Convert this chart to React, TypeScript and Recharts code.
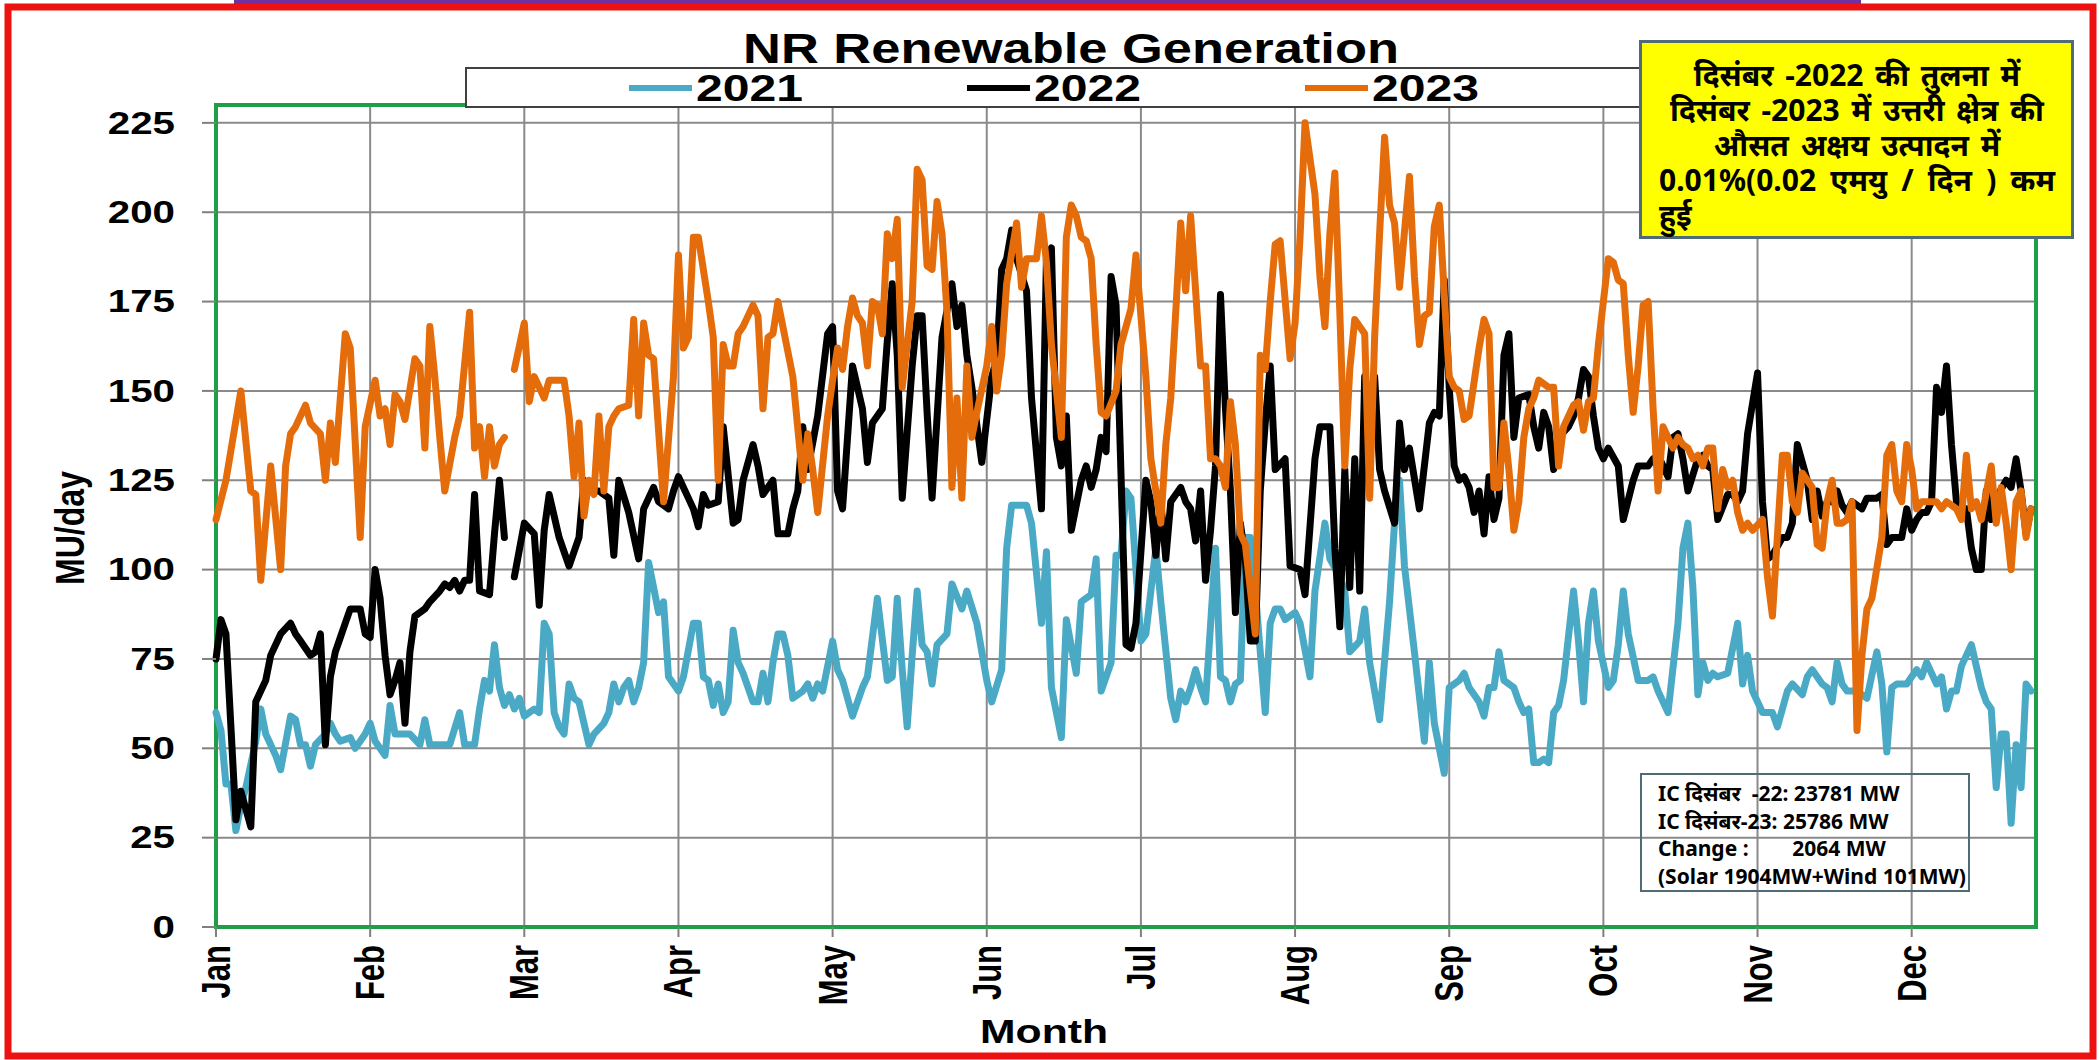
import React from "react";
import { LineChart, Line, XAxis, YAxis, CartesianGrid, ReferenceArea } from "recharts";

type Pt = [number, number | null];

const MONTHS = ["Jan", "Feb", "Mar", "Apr", "May", "Jun", "Jul", "Aug", "Sep", "Oct", "Nov", "Dec"];
// day index of each month label (Excel labels every 31st category)
const MONTH_TICKS = [0, 31, 62, 93, 124, 155, 186, 217, 248, 279, 310, 341];
const MU_TICKS = [0, 25, 50, 75, 100, 125, 150, 175, 200, 225];

// [day of year, MU/day]; null = missing day (29 Feb slot)
const mu2021: Pt[] = [
  [0, 60], [1, 55], [2, 40], [3, 40], [4, 27], [5, 34], [6, 39], [8, 52], [9, 61], [10, 54], [12, 48], [13, 44],
  [15, 59], [16, 58], [17, 51], [18, 51], [19, 45], [20, 51], [22, 54], [23, 57], [24, 54], [25, 52], [27, 53],
  [28, 50], [30, 54], [31, 57], [32, 52], [34, 48], [35, 62], [36, 54], [39, 54], [41, 51], [42, 58], [43, 51],
  [45, 51], [47, 51], [49, 60], [50, 51], [52, 51], [53, 61], [54, 69], [55, 66], [56, 79], [57, 67], [58, 62],
  [59, 65], [60, 61], [61, 64], [62, 59], [64, 61], [65, 60], [66, 85], [67, 82], [68, 60], [69, 56], [70, 54],
  [71, 68], [72, 64], [73, 63], [75, 51], [76, 54], [78, 57], [79, 60], [80, 68], [81, 63], [82, 67], [83, 69],
  [84, 63], [85, 67], [86, 74], [87, 102], [88, 95], [89, 88], [90, 91], [91, 70], [93, 66], [94, 70], [96, 85],
  [97, 85], [98, 70], [99, 69], [100, 62], [101, 68], [102, 60], [103, 63], [104, 83], [105, 74], [106, 71],
  [108, 63], [109, 63], [110, 71], [111, 63], [112, 74], [113, 82], [114, 82], [115, 76], [116, 64], [118, 66],
  [119, 68], [120, 64], [121, 68], [122, 66], [124, 80], [125, 72], [126, 69], [128, 59], [130, 67], [131, 70],
  [133, 92], [135, 69], [136, 70], [137, 92], [138, 72], [139, 56], [140, 76], [141, 94], [142, 79], [143, 77],
  [144, 68], [145, 79], [147, 82], [148, 96], [150, 89], [151, 94], [153, 85], [155, 69], [156, 63], [158, 72],
  [159, 106], [160, 118], [163, 118], [164, 113], [166, 85], [167, 105], [168, 67], [170, 53], [171, 86],
  [173, 71], [174, 91], [176, 93], [177, 103], [178, 66], [180, 74], [181, 104], [182, 104], [183, 122],
  [184, 120], [186, 80], [187, 82], [189, 106], [190, 91], [192, 64], [193, 58], [194, 66], [195, 63], [196, 67],
  [197, 72], [198, 67], [199, 63], [201, 106], [202, 70], [203, 69], [204, 63], [205, 68], [206, 69], [207, 109],
  [208, 109], [209, 94], [211, 60], [212, 85], [213, 89], [214, 89], [215, 86], [217, 88], [218, 85], [220, 70],
  [221, 94], [223, 113], [224, 103], [226, 98], [227, 94], [228, 77], [230, 80], [231, 89], [232, 74], [234, 58],
  [236, 91], [237, 113], [238, 125], [239, 101], [241, 77], [243, 52], [244, 74], [245, 57], [247, 43], [248, 67],
  [250, 69], [251, 71], [252, 67], [254, 63], [255, 59], [256, 67], [257, 67], [258, 77], [259, 69], [261, 67],
  [262, 63], [263, 60], [264, 61], [265, 46], [266, 46], [267, 47], [268, 46], [269, 60], [270, 62], [271, 69],
  [273, 94], [274, 80], [275, 63], [276, 85], [277, 94], [278, 80], [280, 67], [281, 69], [282, 79], [283, 94],
  [284, 82], [286, 69], [288, 69], [289, 70], [290, 66], [292, 60], [294, 85], [295, 106], [296, 113], [297, 95],
  [298, 65], [299, 74], [300, 69], [301, 71], [302, 70], [304, 71], [306, 85], [307, 68], [308, 76], [309, 66],
  [310, 63], [311, 60], [313, 60], [314, 56], [316, 66], [317, 68], [319, 65], [320, 70], [321, 72], [323, 68],
  [324, 67], [325, 63], [326, 74], [327, 68], [328, 66], [330, 66], [332, 64], [334, 77], [335, 68], [336, 49],
  [337, 67], [338, 68], [340, 68], [341, 70], [342, 72], [343, 70], [344, 74], [346, 68], [347, 70], [348, 61],
  [349, 66], [350, 66], [351, 73], [353, 79], [354, 73], [355, 67], [356, 63], [357, 61], [358, 39], [359, 54],
  [360, 54], [361, 29], [362, 51], [363, 39], [364, 68], [365, 66],
];

const mu2022: Pt[] = [
  [0, 75], [1, 86], [2, 82], [4, 30], [5, 38], [7, 28], [8, 63], [10, 69], [11, 76], [13, 82], [15, 85], [16, 82],
  [17, 80], [19, 76], [20, 77], [21, 82], [22, 51], [23, 70], [24, 77], [25, 81], [26, 85], [27, 89], [29, 89],
  [30, 82], [31, 81], [32, 100], [33, 92], [34, 76], [35, 65], [36, 69], [37, 74], [38, 57], [39, 77], [40, 87],
  [42, 89], [43, 91], [45, 94], [46, 96], [47, 95], [48, 97], [49, 94], [50, 97], [51, 97], [52, 121], [53, 94],
  [55, 93], [56, 110], [57, 125], [58, 109], [59, null], [60, 98], [62, 113], [64, 110], [65, 90], [66, 111],
  [67, 121], [69, 109], [70, 105], [71, 101], [73, 109], [74, 125], [76, 122], [77, 122], [79, 120], [80, 104],
  [81, 125], [83, 116], [85, 103], [86, 117], [88, 123], [89, 119], [91, 117], [92, 122], [93, 126], [95, 120],
  [96, 117], [97, 112], [98, 121], [99, 118], [101, 119], [102, 140], [104, 113], [105, 114], [106, 125],
  [108, 135], [109, 129], [110, 121], [112, 125], [113, 110], [115, 110], [116, 117], [117, 122], [118, 140],
  [119, 128], [121, 143], [123, 166], [124, 168], [125, 122], [126, 117], [128, 157], [130, 145], [131, 130],
  [132, 141], [134, 145], [135, 164], [136, 180], [137, 160], [138, 120], [140, 157], [141, 171], [142, 171],
  [143, 144], [144, 120], [146, 165], [148, 180], [149, 168], [150, 174], [151, 160], [152, 151], [154, 130],
  [156, 154], [157, 159], [158, 184], [159, 187], [160, 195], [161, 187], [163, 178], [164, 148], [166, 117],
  [167, 187], [168, 190], [169, 137], [170, 129], [171, 143], [172, 111], [174, 125], [175, 129], [176, 123],
  [177, 128], [178, 137], [179, 133], [180, 182], [181, 174], [183, 79], [184, 78], [185, 85], [187, 125],
  [188, 119], [189, 104], [190, 119], [191, 103], [192, 119], [194, 123], [195, 119], [196, 117], [197, 108],
  [198, 122], [199, 97], [200, 111], [201, 129], [202, 177], [203, 145], [204, 122], [205, 88], [206, 113],
  [207, 103], [208, 80], [209, 80], [210, 122], [211, 141], [212, 157], [213, 128], [215, 131], [216, 101],
  [218, 100], [219, 93], [221, 131], [222, 140], [224, 140], [225, 106], [226, 84], [227, 128], [228, 95],
  [229, 131], [230, 94], [231, 154], [232, 143], [233, 154], [234, 128], [235, 122], [237, 113], [238, 141],
  [239, 128], [240, 134], [242, 117], [244, 141], [245, 144], [246, 143], [247, 181], [248, 151], [249, 129],
  [250, 125], [251, 126], [252, 123], [253, 116], [254, 122], [255, 110], [256, 126], [257, 114], [258, 120],
  [259, 160], [260, 166], [261, 137], [262, 148], [264, 149], [265, 140], [266, 134], [267, 144], [268, 140],
  [269, 128], [270, 137], [272, 140], [273, 143], [274, 148], [275, 156], [276, 154], [277, 143], [278, 134],
  [279, 131], [280, 134], [282, 129], [283, 114], [285, 125], [286, 129], [288, 129], [289, 131], [290, 132],
  [292, 126], [293, 137], [294, 138], [295, 131], [296, 122], [298, 131], [299, 132], [300, 129], [301, 128],
  [302, 114], [304, 121], [305, 121], [306, 119], [307, 122], [308, 138], [310, 155], [311, 119], [312, 103],
  [313, 104], [315, 109], [316, 109], [317, 113], [318, 135], [320, 125], [321, 114], [322, 122], [323, 115],
  [324, 119], [325, 119], [326, 122], [327, 118], [328, 116], [329, 119], [331, 117], [332, 120], [334, 120],
  [335, 121], [336, 107], [337, 109], [339, 109], [340, 117], [341, 111], [342, 114], [343, 116], [344, 116],
  [345, 119], [346, 151], [347, 144], [348, 157], [349, 135], [350, 119], [351, 117], [352, 117], [353, 106],
  [354, 100], [355, 100], [356, 122], [357, 114], [358, 120], [360, 125], [361, 123], [362, 131], [363, 122],
  [364, 110], [365, 117],
];

const mu2023: Pt[] = [
  [0, 114], [2, 125], [5, 150], [7, 122], [8, 121], [9, 97], [11, 129], [13, 100], [14, 129], [15, 138], [16, 140],
  [18, 146], [19, 141], [21, 138], [22, 125], [23, 141], [24, 130], [25, 148], [26, 166], [27, 162], [29, 109],
  [30, 140], [32, 153], [33, 143], [34, 145], [35, 135], [36, 149], [37, 147], [38, 142], [40, 159], [41, 157],
  [42, 134], [43, 168], [44, 154], [45, 137], [46, 122], [48, 137], [49, 143], [51, 172], [52, 134], [53, 140],
  [54, 126], [55, 140], [56, 129], [57, 135], [58, 137], [59, null], [60, 156], [62, 169], [63, 147], [64, 154],
  [65, 151], [66, 148], [67, 153], [70, 153], [71, 143], [72, 126], [73, 141], [74, 115], [75, 125], [76, 121],
  [77, 143], [78, 122], [79, 140], [80, 143], [81, 145], [83, 146], [84, 170], [85, 143], [86, 169], [87, 160],
  [88, 159], [90, 119], [92, 154], [93, 188], [94, 162], [95, 165], [96, 193], [97, 193], [99, 175], [100, 165],
  [101, 125], [102, 163], [103, 157], [104, 157], [105, 166], [106, 168], [108, 174], [109, 171], [110, 145],
  [111, 165], [112, 166], [113, 175], [114, 168], [116, 154], [118, 125], [119, 138], [120, 128], [121, 116],
  [123, 143], [124, 153], [125, 162], [126, 156], [127, 168], [128, 176], [129, 171], [130, 169], [131, 157],
  [132, 175], [133, 174], [134, 166], [135, 194], [136, 187], [137, 198], [138, 151], [140, 175], [141, 212],
  [142, 209], [143, 185], [144, 184], [145, 203], [146, 194], [147, 172], [148, 123], [149, 148], [150, 120],
  [151, 157], [152, 137], [153, 144], [155, 157], [156, 168], [157, 150], [158, 160], [159, 180], [161, 197],
  [162, 179], [163, 187], [165, 187], [166, 199], [167, 186], [168, 163], [170, 137], [171, 193], [172, 202],
  [173, 199], [174, 193], [175, 192], [176, 187], [177, 163], [178, 144], [179, 143], [181, 150], [182, 163],
  [184, 173], [185, 188], [187, 154], [188, 131], [190, 113], [191, 135], [192, 148], [193, 172], [194, 197],
  [195, 178], [196, 199], [197, 178], [198, 157], [199, 157], [200, 131], [201, 131], [202, 129], [203, 123],
  [204, 147], [205, 135], [206, 110], [207, 107], [209, 82], [210, 160], [211, 156], [212, 175], [213, 191],
  [214, 192], [216, 159], [217, 169], [218, 193], [219, 225], [221, 205], [222, 182], [223, 168], [224, 194],
  [225, 211], [226, 172], [227, 129], [228, 156], [229, 170], [231, 166], [232, 120], [233, 165], [234, 194],
  [235, 221], [236, 202], [237, 197], [238, 179], [240, 210], [241, 182], [242, 163], [243, 171], [244, 172],
  [245, 196], [246, 202], [247, 177], [248, 154], [249, 151], [250, 150], [251, 142], [252, 143], [254, 162],
  [255, 170], [256, 166], [257, 123], [258, 123], [259, 141], [260, 128], [261, 111], [262, 119], [263, 137],
  [264, 145], [265, 148], [266, 153], [268, 151], [269, 151], [270, 129], [271, 140], [272, 143], [273, 146],
  [274, 147], [275, 139], [276, 147], [277, 148], [278, 163], [279, 175], [280, 187], [281, 186], [282, 181],
  [283, 180], [284, 160], [285, 144], [286, 157], [287, 174], [288, 175], [289, 145], [290, 122], [291, 140],
  [292, 137], [293, 134], [294, 137], [295, 135], [296, 134], [297, 131], [298, 132], [299, 129], [300, 134],
  [301, 134], [302, 117], [303, 128], [304, 123], [305, 125], [306, 116], [307, 111], [308, 113], [309, 111],
  [311, 114], [312, 98], [313, 87], [315, 132], [316, 132], [317, 119], [318, 116], [319, 127], [321, 123],
  [322, 107], [323, 106], [324, 119], [325, 125], [326, 113], [327, 113], [328, 114], [329, 119], [330, 55],
  [331, 76], [332, 89], [333, 92], [335, 109], [336, 132], [337, 135], [338, 122], [339, 119], [340, 135],
  [341, 128], [342, 117], [343, 119], [344, 119], [346, 119], [347, 117], [348, 119], [350, 117], [351, 114],
  [352, 132], [353, 117], [354, 119], [355, 114], [357, 129], [358, 113], [359, 123], [360, 113], [361, 100],
  [362, 119], [363, 122], [364, 109], [365, 117],
];

const SERIES = [
  { name: "2021", pts: mu2021, color: "#4aaac6" },
  { name: "2022", pts: mu2022, color: "#000000" },
  { name: "2023", pts: mu2023, color: "#e46c0a" },
];

const toRows = (pts: Pt[]) => pts.map(([day, mu]) => ({ day, mu }));

const ARIAL = "'Liberation Sans', Arial, sans-serif";
const HINDI = "'Noto Sans', 'Noto Sans Devanagari', 'DejaVu Sans', sans-serif";

function MonthTick({ x, y, payload }: any) {
  const i = MONTH_TICKS.indexOf(payload.value);
  return (
    <g transform={`translate(${x},${y}) rotate(-90) scale(1,1.3)`}>
      <text textAnchor="end" dominantBaseline="central" fontSize={31} fontWeight="bold" fontFamily={ARIAL} fill="#000">
        {MONTHS[i]}
      </text>
    </g>
  );
}

function MuTick({ x, y, payload }: any) {
  return (
    <g transform={`translate(${x},${y}) scale(1.3,1)`}>
      <text textAnchor="end" dominantBaseline="central" fontSize={31} fontWeight="bold" fontFamily={ARIAL} fill="#000">
        {payload.value}
      </text>
    </g>
  );
}

export default function App() {
  return (
    <div style={{ position: "absolute", left: 0, top: 0, width: 2100, height: 1060, background: "#fff", overflow: "hidden" }}>
      <LineChart width={2100} height={1060} margin={{ top: 105, right: 64, bottom: 0, left: 0 }}>
        <CartesianGrid stroke="#8a8a8a" strokeWidth={2} />
        <XAxis
          dataKey="day"
          type="number"
          domain={[0, 366]}
          ticks={MONTH_TICKS}
          interval={0}
          height={133}
          tickSize={10}
          tickMargin={8}
          axisLine={false}
          tickLine={{ stroke: "#7f7f7f", strokeWidth: 2 }}
          tick={<MonthTick />}
        />
        <YAxis
          type="number"
          domain={[0, 230]}
          ticks={MU_TICKS}
          interval={0}
          width={216}
          tickSize={14}
          tickMargin={27}
          axisLine={false}
          tickLine={{ stroke: "#7f7f7f", strokeWidth: 2 }}
          tick={<MuTick />}
        />
        {SERIES.map((s) => (
          <Line
            key={s.name}
            data={toRows(s.pts)}
            dataKey="mu"
            name={s.name}
            type="linear"
            stroke={s.color}
            strokeWidth={7}
            strokeLinejoin="round"
            strokeLinecap="round"
            dot={false}
            activeDot={false}
            connectNulls={false}
            isAnimationActive={false}
          />
        ))}
        <ReferenceArea x1={0} x2={366} y1={0} y2={230} fill="none" stroke="#1f9e48" strokeWidth={4} ifOverflow="visible" />
      </LineChart>

      {/* titles + legend drawn over the chart */}
      <svg width={2100} height={1060} style={{ position: "absolute", left: 0, top: 0, pointerEvents: "none" }}>
        <rect x={234} y={0} width={1627} height={8} fill="#7030a0" />
        <rect x={8} y={7} width={2085} height={1049} fill="none" stroke="#ee1111" strokeWidth={7} />
        <text x={743} y={63} fontSize={43} fontWeight="bold" fontFamily={ARIAL} textLength={656} lengthAdjust="spacingAndGlyphs">
          NR Renewable Generation
        </text>
        <rect x={466} y={68} width={1181} height={39} fill="#fff" stroke="#404040" strokeWidth={2} />
        {SERIES.map((s, i) => {
          const x0 = [629, 967, 1305][i];
          return (
            <g key={s.name}>
              <line x1={x0} x2={x0 + 63} y1={88} y2={88} stroke={s.color} strokeWidth={6} />
              <text x={x0 + 67} y={101} fontSize={36} fontWeight="bold" fontFamily={ARIAL} textLength={107} lengthAdjust="spacingAndGlyphs">
                {s.name}
              </text>
            </g>
          );
        })}
        <text x={980} y={1043} fontSize={33} fontWeight="bold" fontFamily={ARIAL} textLength={128} lengthAdjust="spacingAndGlyphs">
          Month
        </text>
        <g transform="translate(84,528) rotate(-90) scale(1,1.25)">
          <text textAnchor="middle" fontSize={32} fontWeight="bold" fontFamily={ARIAL}>MU/day</text>
        </g>
      </svg>

      {/* yellow note */}
      <div
        style={{
          position: "absolute", left: 1639, top: 40, width: 435, height: 199, boxSizing: "border-box",
          background: "#ffff00", border: "3px solid #4f6b78", padding: "14px 16px 0 17px",
          fontFamily: HINDI, fontWeight: "bold", fontSize: 30, lineHeight: "35px", color: "#000", wordSpacing: 4,
        }}
      >
        <div style={{ textAlign: "center", whiteSpace: "nowrap" }}>दिसंबर -2022 की तुलना में</div>
        <div style={{ textAlign: "center", whiteSpace: "nowrap" }}>दिसंबर -2023 में उत्तरी क्षेत्र की</div>
        <div style={{ textAlign: "center", whiteSpace: "nowrap" }}>औसत अक्षय उत्पादन में</div>
        <div style={{ display: "flex", justifyContent: "space-between" }}>
          {["0.01%(0.02", "एमयु", "/", "दिन", ")", "कम"].map((w) => (
            <span key={w}>{w}</span>
          ))}
        </div>
        <div>हुई</div>
      </div>

      {/* installed capacity note */}
      <div
        style={{
          position: "absolute", left: 1640, top: 773, width: 330, height: 119, boxSizing: "border-box",
          border: "2px solid #4f6b78", padding: "5px 0 0 16px",
          fontFamily: HINDI, fontWeight: "bold", fontSize: 21, lineHeight: "27.5px", color: "#000", whiteSpace: "pre",
        }}
      >
        <div>IC दिसंबर  -22: 23781 MW</div>
        <div>IC दिसंबर-23: 25786 MW</div>
        <div>Change :        2064 MW</div>
        <div>(Solar 1904MW+Wind 101MW)</div>
      </div>
    </div>
  );
}
